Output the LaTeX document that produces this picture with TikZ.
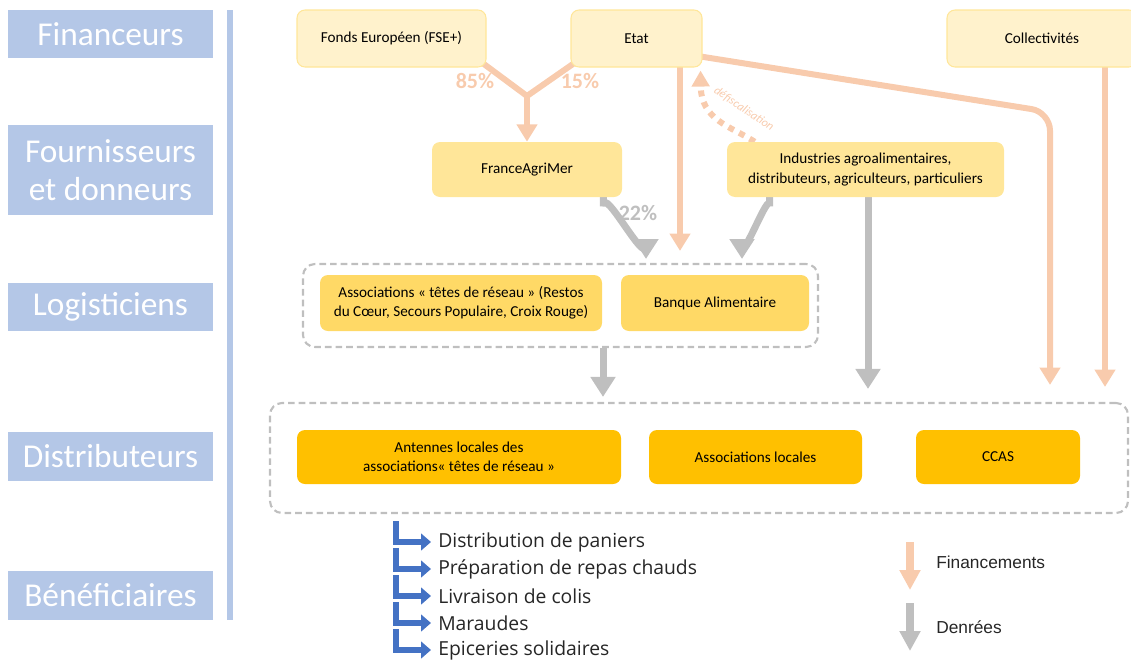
\documentclass[tikz,border=0pt]{standalone}
\usepackage{fontspec}
\setmainfont{Carlito}
\newfontfamily\segoefont{Open Sans}
\newfontfamily\arialfont{Liberation Sans}
\usetikzlibrary{arrows.meta,backgrounds,calc}
\definecolor{lblue}{HTML}{B4C7E7}
\definecolor{orng}{HTML}{F8CBAD}
\definecolor{gry}{HTML}{BFBFBF}
\definecolor{yA}{HTML}{FFF2CC}
\definecolor{yB}{HTML}{FFE699}
\definecolor{yC}{HTML}{FFD966}
\definecolor{yD}{HTML}{FFC000}
\definecolor{bluearr}{HTML}{4472C4}
\begin{document}
\begin{tikzpicture}[x=0.75pt,y=-0.75pt,
  wh/.style 2 args={minimum width=#1*0.75pt, minimum height=#2*0.75pt},
  lab/.style={fill=lblue, text=white, align=center, inner sep=0pt,
    font=\fontsize{25}{29}\selectfont},
  nbox/.style={rounded corners=6pt, align=center, inner sep=2pt,
    font=\fontsize{11.4}{14.5}\selectfont},
  nA/.style={nbox, fill=yA, draw=yB, line width=0.8pt},
  nB/.style={nbox, fill=yB},
  nC/.style={nbox, fill=yC},
  nD/.style={nbox, fill=yD},
  cont/.style={draw=gry, line width=1.6pt, dash pattern=on 5pt off 3pt, rounded corners=9pt},
  pct/.style={font=\bfseries\fontsize{16.5}{18}\selectfont},
  oarrow/.style={draw=orng, line width=4.5pt, -{Triangle[width=15pt,length=13pt]}},
  oline/.style={draw=orng, line width=4.5pt},
  garrow/.style={draw=gry, line width=5.25pt, -{Triangle[width=18pt,length=15pt]}},
  dotarrow/.style={draw=orng, line width=4.5pt, dash pattern=on 4.5pt off 4.5pt, -{Triangle[width=13pt,length=12pt]}},
  barrow/.style={draw=bluearr, line width=4pt, -{Triangle[width=12.5pt,length=7.5pt]}},
  benef/.style={font=\segoefont\fontsize{14.5}{16}\selectfont, inner sep=0pt, text=black!85},
  leg/.style={font=\arialfont\fontsize{13}{15}\selectfont, inner sep=0pt, text=black!85}
]
\useasboundingbox (0,0) rectangle (1131,664);

% left labels
\node[lab, wh={205}{48}] (lfin) at (110.5,34) {Financeurs};
\node[lab, wh={205}{90}] (lfou) at (110.5,170) {Fournisseurs\\et donneurs};
\node[lab, wh={205}{48}] (llog) at (110.5,307) {Logisticiens};
\node[lab, wh={205}{49}] (ldis) at (110.5,456.5) {Distributeurs};
\node[lab, wh={205}{49}] (lben) at (110.5,595.5) {Bénéficiaires};
\draw[lblue, line width=4pt] (230,10) -- (230,620);

% financeurs
\node[nA, wh={189}{57}] (fonds) at (391.5,38.5) {Fonds Européen (FSE+)};
\node[nA, wh={131}{57}] (etat) at (636.5,38.5) {Etat};
\node[nA, wh={190}{57}] (coll) at (1042,38.5) {Collectivités};

% fournisseurs
\node[nB, wh={190}{55}] (fam) at (527,169.5) {FranceAgriMer};
\node[nB, wh={277}{55}] (ind) at (865.5,169.5) {Industries agroalimentaires,\\distributeurs, agriculteurs, particuliers};

% logisticiens
\node[cont, wh={515}{83}] (logi) at (560.5,305.5) {};
\node[nC, wh={282}{56}] (atr) at (461,303) {Associations « têtes de réseau » (Restos\\du Cœur, Secours Populaire, Croix Rouge)};
\node[nC, wh={188}{56}] (ba) at (715,303) {Banque Alimentaire};

% distributeurs
\node[cont, wh={858}{110}] (dist) at (699,458) {};
\node[nD, wh={324}{54}] (ant) at (459,457) {Antennes locales des\\associations« têtes de réseau »};
\node[nD, wh={213}{54}] (al) at (755.5,457) {Associations locales};
\node[nD, wh={164}{54}] (ccas) at (998,457) {CCAS};

% labels
\node[pct, text=orng] (p85) at (475,81) {85\%};
\node[pct, text=orng] (p15) at (580,81) {15\%};
\node[pct, text=gry] (p22) at (638,213) {22\%};
\node[rotate=-34, text=orng, inner sep=0pt, font=\itshape\fontsize{9}{10}\selectfont] (def) at (744,109) {défiscalisation};

\begin{scope}[on background layer]
  \coordinate (j) at (527,96);
  \draw[oline, line join=round] ($(fonds.south east)+(-6,-6)$) -- (j) -- ($(etat.south west)+(6,-6)$);
  \draw[oarrow] (j) -- (fam.north);
  \draw[oarrow] ($(etat.south)+(43.5,-4)$) -- ($(logi.north)+(119.5,-12)$);
  \draw[oarrow, rounded corners=14pt] ($(etat.south east)+(-8,-12)$) -- (1050,112) -- ($(dist.north)+(351,-17)$);
  \draw[oarrow] ($(coll.south)+(63,-4)$) -- ($(dist.north)+(406,-15)$);
  \draw[dotarrow] ($(ind.north west)+(28,0)$) .. controls (730,126) and (701,120) .. ($(etat.south east)+(-2,3)$);
  \draw[garrow] ($(fam.south east)+(-19,-3)$) -- ++(0,12) to[out=90,in=-90] (646,245) -- (646,259);
  \draw[garrow] ($(ind.south west)+(43,-3)$) -- ++(0,12) to[out=90,in=-90] (742,245) -- (742,259);
  \draw[garrow] ($(ind.south)+(2.5,-3)$) -- ($(dist.north)+(169,-13)$);
  \draw[garrow] ($(logi.south)+(42.5,0)$) -- ($(dist.north)+(-96,-5)$);
\end{scope}

% beneficiaires
\node[benef, anchor=west] (b1) at (438,542) {Distribution de paniers};
\node[benef, anchor=west] (b2) at (438,569) {Préparation de repas chauds};
\node[benef, anchor=west] (b3) at (438,596) {Livraison de colis};
\node[benef, anchor=west] (b4) at (438,623) {Maraudes};
\node[benef, anchor=west] (b5) at (438,650) {Epiceries solidaires};
\foreach \i/\y in {1/542,2/569,3/596,4/623,5/650}{
  \coordinate (bs\i) at (396,\y-21);
  \draw[barrow] (bs\i) |- ($(b\i.west)+(-7,0)$);
}

% legend
\coordinate (lo1) at (910,542);
\coordinate (lo2) at (910,590);
\coordinate (lg1) at (910,603);
\coordinate (lg2) at (910,651);
\draw[oarrow, line width=6pt, -{Triangle[width=15pt,length=15pt]}] (lo1) -- (lo2);
\draw[garrow, line width=6pt, -{Triangle[width=15pt,length=15pt]}] (lg1) -- (lg2);
\node[leg, anchor=west] (lf) at (936,562) {Financements};
\node[leg, anchor=west] (ld) at (936,627) {Denrées};
\end{tikzpicture}
\end{document}
